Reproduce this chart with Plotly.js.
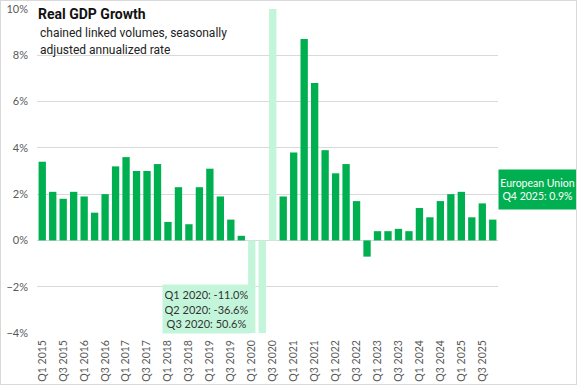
<!DOCTYPE html>
<html>
<head>
<meta charset="utf-8">
<script src="https://cdn.plot.ly/plotly-3.0.1.min.js"></script>
<style>
  html, body { margin: 0; padding: 0; background: #fff; }
  #chart { width: 575px; height: 383px; border: 1px solid #d9d9d9; }
</style>
</head>
<body>
<div id="chart"></div>
<script>
const years = [2015, 2016, 2017, 2018, 2019, 2020, 2021, 2022, 2023, 2024, 2025];
const quarterNames = ['Q1', 'Q2', 'Q3', 'Q4'];
const quarters = [];
years.forEach(y => quarterNames.forEach(q => quarters.push(q + ' ' + y)));

const growth = [
  3.4, 2.1, 1.8, 2.1,
  1.9, 1.2, 2.0, 3.2,
  3.6, 3.0, 3.0, 3.3,
  0.8, 2.3, 0.7, 2.3,
  3.1, 1.9, 0.9, 0.2,
  -11.0, -36.6, 50.6, 1.9,
  3.8, 8.7, 6.8, 3.9,
  2.9, 3.3, 1.7, -0.7,
  0.4, 0.4, 0.5, 0.4,
  1.4, 1.0, 1.7, 2.0,
  2.1, 1.0, 1.6, 0.9
];

const outlierQuarters = ['Q1 2020', 'Q2 2020', 'Q3 2020'];
const tickLabels = quarters.filter(q => q.startsWith('Q1') || q.startsWith('Q3'));
const seriesName = 'European Union';

const GREEN = '#00b050';
const LIGHT = '#c3f5da';
const colors = quarters.map(q => outlierQuarters.includes(q) ? LIGHT : GREEN);

const outlierText = outlierQuarters
  .map(q => q + ': ' + growth[quarters.indexOf(q)].toFixed(1) + '%')
  .join('<br>');
const lastQ = quarters[quarters.length - 1];
const lastText = seriesName + '<br>' + lastQ + ': ' + growth[growth.length - 1].toFixed(1) + '%';

const tickFont = { family: 'Lato, "Liberation Sans", sans-serif', size: 11, color: '#595959' };
const xTickFont = { family: 'Lato, "Liberation Sans", sans-serif', size: 10.5, color: '#595959' };

const data = [{
  type: 'bar',
  x: quarters,
  y: growth,
  marker: { color: colors },
  hoverinfo: 'x+y'
}];

const layout = {
  width: 575,
  height: 383,
  margin: { l: 36, r: 78, t: 8, b: 51, pad: 0 },
  paper_bgcolor: '#ffffff',
  plot_bgcolor: '#ffffff',
  bargap: 0.3,
  showlegend: false,
  title: {
    text: '<b>Real GDP Growth</b>',
    font: { family: 'Roboto, "Noto Sans", sans-serif', size: 14, color: '#111111' },
    xref: 'container', yref: 'container',
    x: 37 / 575, xanchor: 'left',
    y: 1 - 8 / 383, yanchor: 'top',
    pad: { t: 0, b: 0, l: 0, r: 0 }
  },
  xaxis: {
    type: 'category',
    tickmode: 'array',
    tickvals: tickLabels,
    ticktext: tickLabels,
    tickangle: -90,
    tickfont: xTickFont,
    ticklabelstandoff: 4,
    showgrid: false,
    showline: false,
    zeroline: false,
    ticks: ''
  },
  yaxis: {
    range: [-4, 10],
    dtick: 2,
    tick0: 0,
    ticksuffix: '%',
    tickfont: tickFont,
    ticklabelstandoff: 8,
    gridcolor: '#d9d9d9',
    gridwidth: 1,
    zeroline: true,
    zerolinecolor: '#d9d9d9',
    zerolinewidth: 1,
    showline: false,
    ticks: ''
  },
  annotations: [
    {
      text: 'chained linked volumes, seasonally',
      xref: 'paper', yref: 'paper',
      x: 0.002, y: (324 - 15) / 324,
      xanchor: 'left', yanchor: 'top',
      showarrow: false, align: 'left',
      font: { family: 'Roboto, "Noto Sans", sans-serif', size: 12, color: '#222222' }
    },
    {
      text: 'adjusted annualized rate',
      xref: 'paper', yref: 'paper',
      x: 0.002, y: (324 - 32) / 324,
      xanchor: 'left', yanchor: 'top',
      showarrow: false, align: 'left',
      font: { family: 'Roboto, "Noto Sans", sans-serif', size: 12, color: '#222222' }
    },
    {
      text: outlierText,
      xref: 'paper', yref: 'paper',
      x: (206.5 - 37) / 461, y: (333 - 309) / 324,
      xanchor: 'center', yanchor: 'middle',
      showarrow: false, align: 'center',
      width: 83, height: 44, borderpad: 2,
      bgcolor: LIGHT,
      font: { family: 'Lato, "Liberation Sans", sans-serif', size: 11, color: '#333333' }
    },
    {
      text: lastText,
      xref: 'paper', yref: 'paper',
      x: 1, y: (333 - 189.5) / 324,
      xanchor: 'left', yanchor: 'middle',
      showarrow: false, align: 'center',
      width: 77, height: 39, borderpad: 0,
      bgcolor: GREEN,
      font: { family: 'Lato, "Liberation Sans", sans-serif', size: 10.5, color: '#ffffff' }
    }
  ]
};

Plotly.newPlot('chart', data, layout, { displayModeBar: false, staticPlot: true });
</script>
</body>
</html>
